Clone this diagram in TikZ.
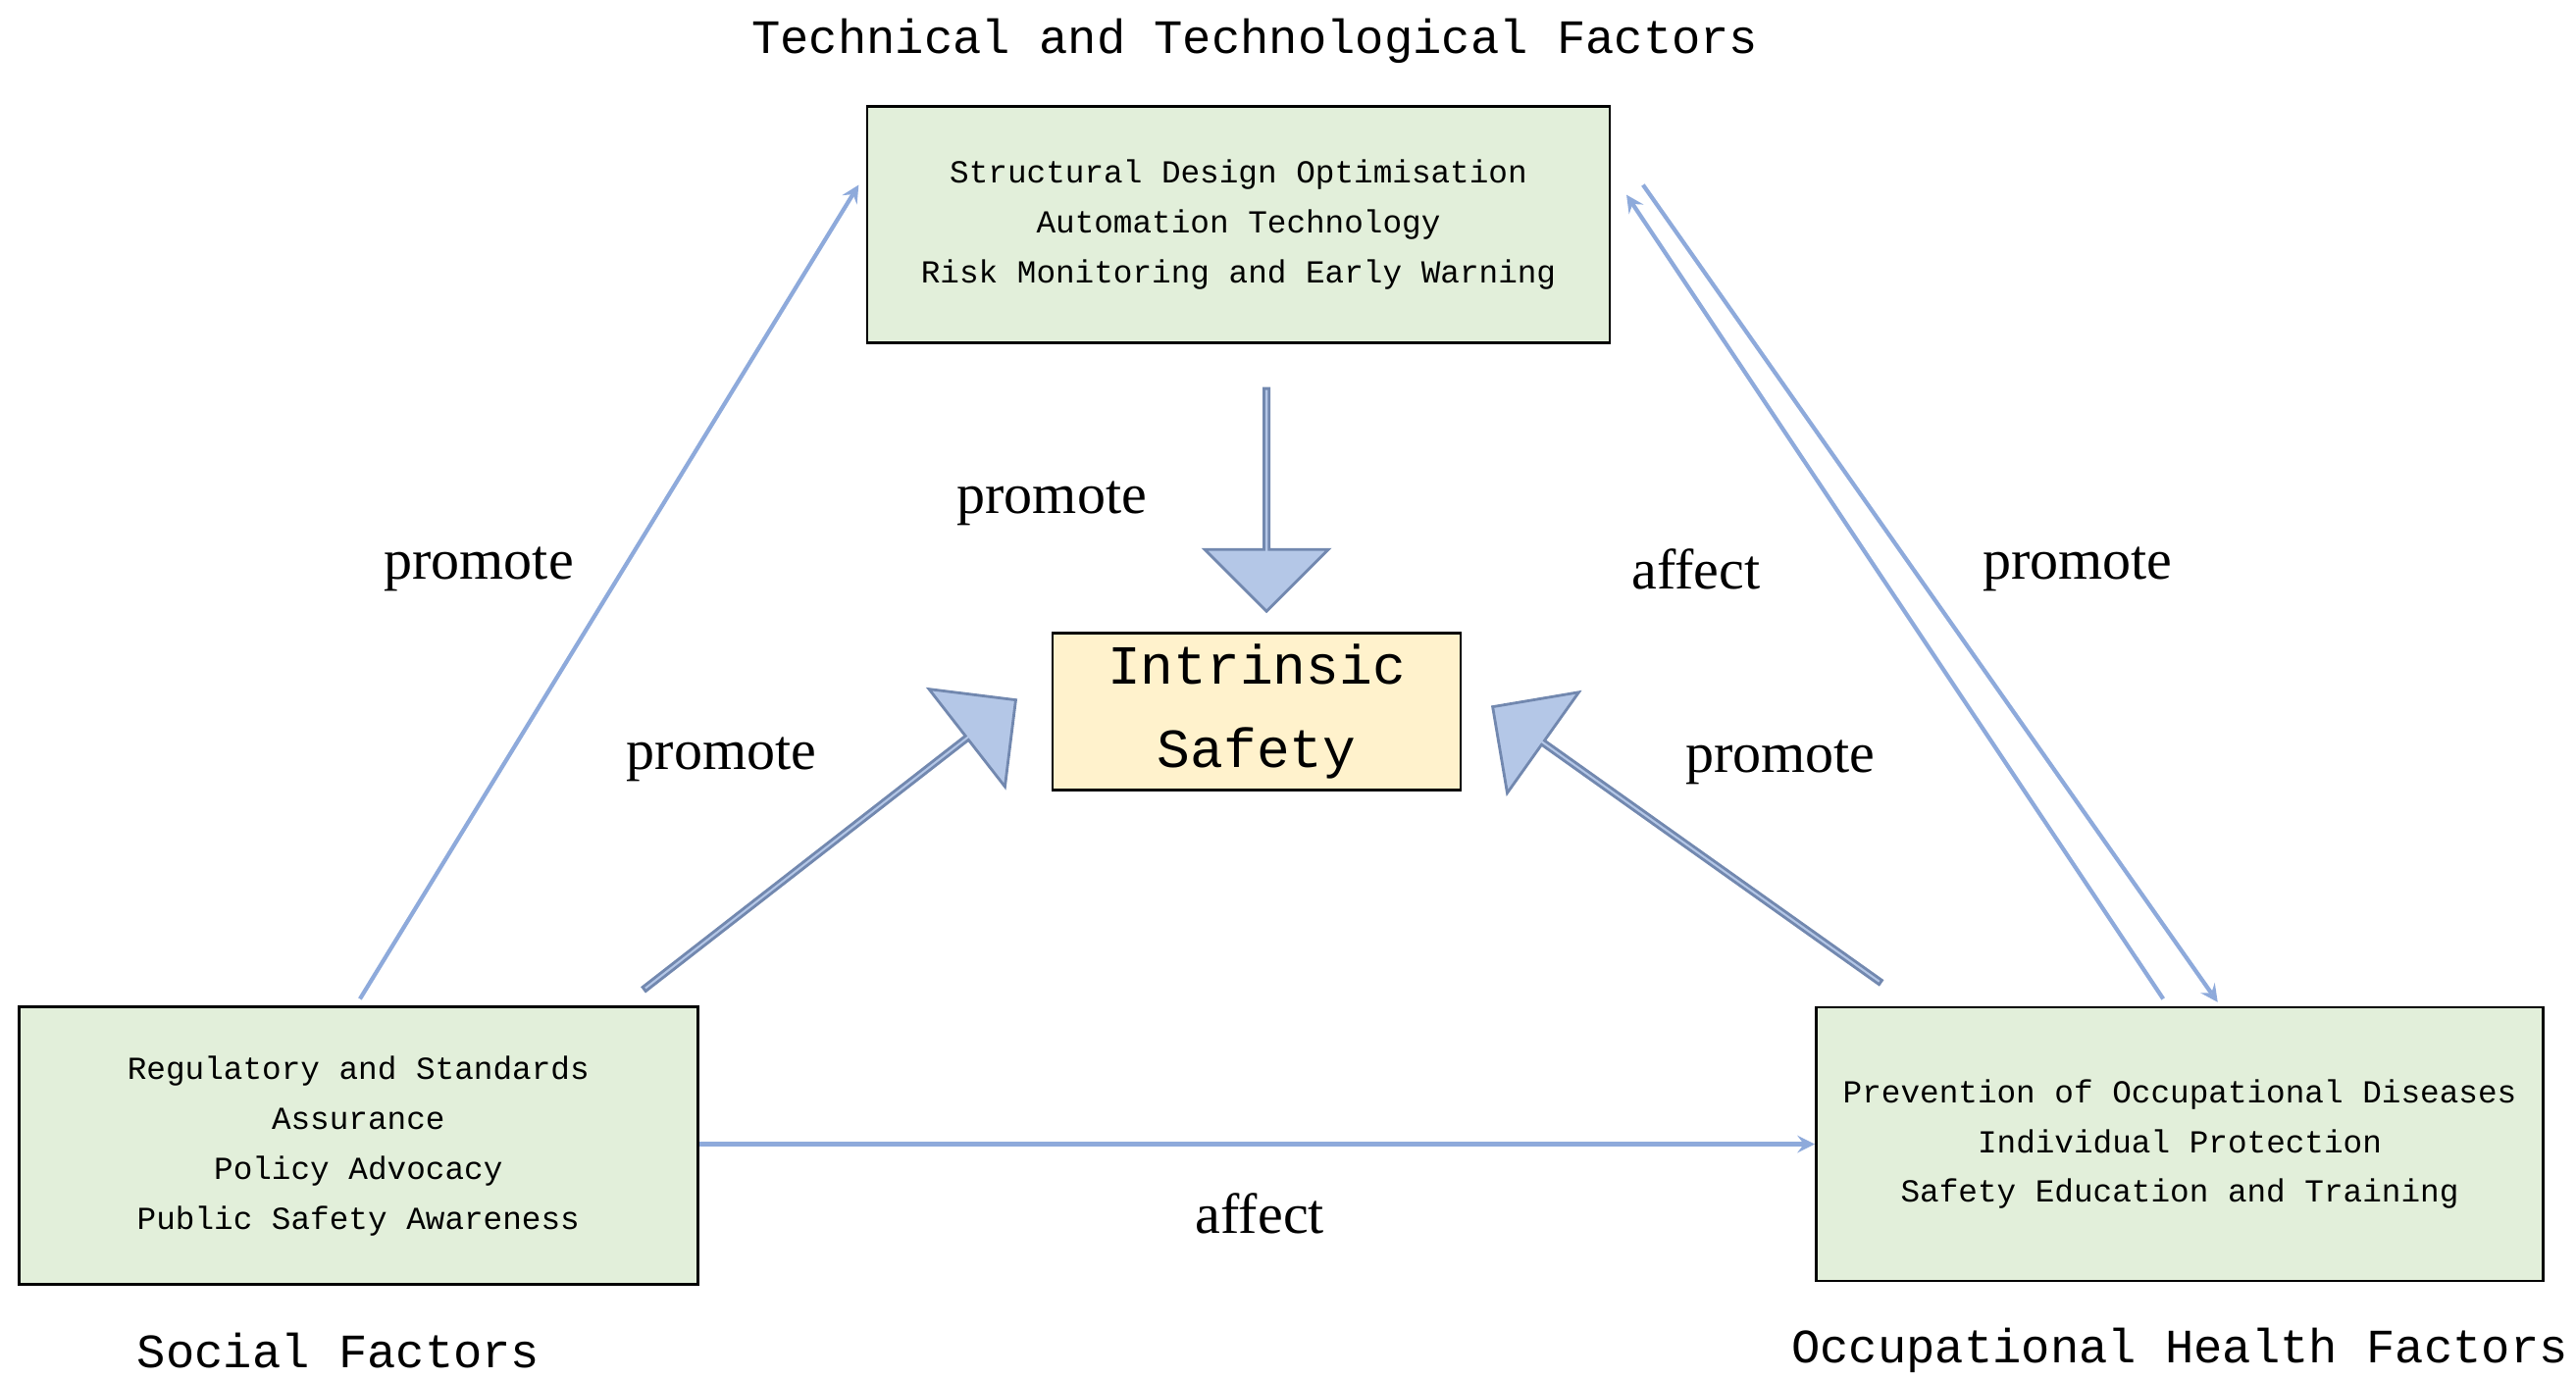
\documentclass[tikz,border=0pt]{standalone}
\usepackage{fontspec}
\setmainfont{Liberation Serif}
\newfontfamily\boxfont{Liberation Mono}
\usetikzlibrary{shapes.arrows}
\definecolor{factorgreen}{HTML}{E2EFDA}
\definecolor{linkblue}{HTML}{8EAADB}
\definecolor{arrowblue}{HTML}{B4C7E7}
\definecolor{coreyellow}{HTML}{FFF2CC}

\begin{document}
\begin{tikzpicture}[x=0.01683cm,y=-0.01683cm,
    factor/.style={draw,fill=factorgreen,thick,align=center,font=\boxfont\fontsize{9.3}{14.5}\selectfont},
    heading/.style={font=\boxfont\fontsize{13.9}{16}\selectfont},
    lbl/.style={font=\fontsize{16.5}{18}\selectfont},
    link/.style={->,>=stealth,draw=linkblue,line width=1.2pt},
    bigarrow/.style={single arrow,draw=linkblue!80!black,fill=arrowblue,thick,minimum height=#1,minimum width=1.26cm,single arrow head extend=0.33cm,inner sep=0pt}]
    \useasboundingbox (0,0) rectangle (1560,835);
    % Boxes
    \node[factor,minimum width=7.57cm,minimum height=2.41cm] (tech) at (750,136)
        {Structural Design Optimisation\\Automation Technology\\Risk Monitoring and Early Warning};
    \node[factor,minimum width=6.92cm,minimum height=2.83cm] (social) at (217,694)
        {Regulatory and Standards\\Assurance\\Policy Advocacy\\Public Safety Awareness};
    \node[factor,minimum width=7.41cm,minimum height=2.79cm] (health) at (1320,693)
        {Prevention of Occupational Diseases\\Individual Protection\\Safety Education and Training};
    \node[draw,thick,fill=coreyellow,minimum width=4.16cm,minimum height=1.46cm,align=center,
        font=\boxfont\fontsize{16}{24}\selectfont] (core) at (761,431) {Intrinsic\\Safety};
    % Headings
    \node[heading] (techname) at (760,25) {Technical and Technological Factors};
    \node[heading] (socialname) at (205,818) {Social Factors};
    \node[heading] (healthname) at (1320,818) {Occupational Health Factors};
    % Big arrows
    \node[bigarrow=2.27cm,rotate=-90] (adown) at (767,302) {};
    \node[bigarrow=4.8cm,rotate=37.9] (aleft) at (502,512) {};
    \node[bigarrow=4.85cm,rotate=144.6] (aright) at (1022,512) {};
    % Thin links
    \coordinate (s1) at (218,605); \coordinate (t1) at (520,112);
    \coordinate (h1) at (1310,605); \coordinate (t2) at (985,118);
    \coordinate (t3) at (995,112); \coordinate (h2) at (1343,607);
    \draw[link] (s1) -- (t1);
    \draw[link] (h1) -- (t2);
    \draw[link] (t3) -- (h2);
    \draw[link] (social.east |- 0,693) -- (health.west |- 0,693);
    % Labels
    \node[lbl] (l1) at (290,345) {promote};
    \node[lbl] (l2) at (637,305) {promote};
    \node[lbl] (l3) at (1027,345) {affect};
    \node[lbl] (l4) at (1258,345) {promote};
    \node[lbl] (l5) at (437,460) {promote};
    \node[lbl] (l6) at (1078,462) {promote};
    \node[lbl] (l7) at (763,735) {affect};
\end{tikzpicture}
\end{document}
